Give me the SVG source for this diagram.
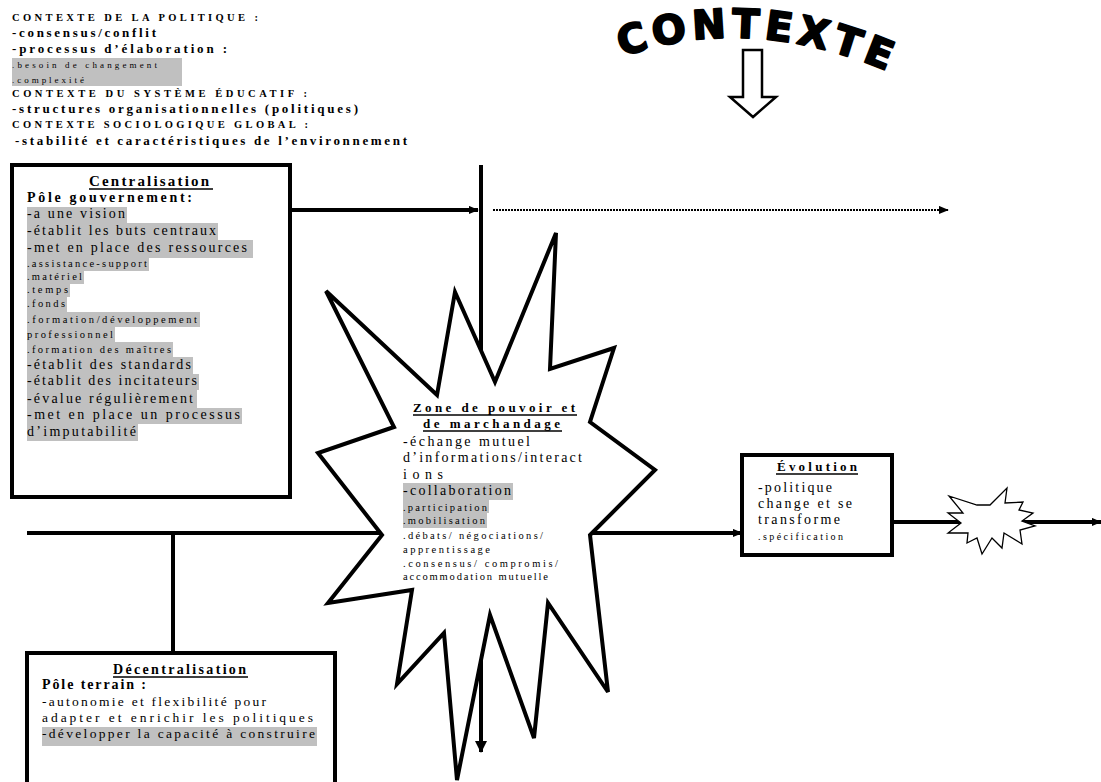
<svg xmlns="http://www.w3.org/2000/svg" width="1101" height="782" viewBox="0 0 1101 782">
<style>
.t{font-family:"Liberation Serif","Times New Roman",serif;fill:#000}
.b{font-weight:bold}
.hl{fill:#c0c0c0}
.box{fill:#fff;stroke:#000;stroke-width:4}
.conn{stroke:#000;stroke-width:4;fill:none}
.ul{stroke:#000;stroke-width:1.5}
.star{fill:#fff;stroke:#000;stroke-linejoin:miter}
</style>
<defs>
<marker id="ah" viewBox="0 0 12 12" refX="11" refY="6" markerWidth="12" markerHeight="12" markerUnits="userSpaceOnUse" orient="auto">
<path d="M0,0 L12,6 L0,12 Z" fill="#000"/>
</marker>
<marker id="ahs" viewBox="0 0 12 10" refX="11" refY="5" markerWidth="10" markerHeight="9" markerUnits="userSpaceOnUse" orient="auto">
<path d="M0,0 L12,5 L0,10 Z" fill="#000"/>
</marker>
<path id="arc" d="M608,62 Q748,6 905,79"/>
</defs>

<g id="contexte-politique">
<rect class="hl" x="12" y="58" width="170" height="28"/>
<text class="t b" x="12" y="20.5" font-size="10.5" textLength="246" lengthAdjust="spacing">CONTEXTE DE LA POLITIQUE :</text>
<text class="t b" x="12" y="37" font-size="13" textLength="144" lengthAdjust="spacing">-consensus/conflit</text>
<text class="t b" x="12" y="53" font-size="13" textLength="215" lengthAdjust="spacing">-processus d’élaboration :</text>
<text class="t" x="12" y="68" font-size="9" textLength="145" lengthAdjust="spacing">.besoin de changement</text>
<text class="t" x="12" y="83" font-size="9" textLength="72" lengthAdjust="spacing">.complexité</text>
<text class="t b" x="12" y="97" font-size="10.5" textLength="295" lengthAdjust="spacing">CONTEXTE DU SYSTÈME ÉDUCATIF :</text>
<text class="t b" x="12" y="113" font-size="13" textLength="346" lengthAdjust="spacing">-structures organisationnelles  (politiques)</text>
<text class="t b" x="12" y="128" font-size="10.5" textLength="296" lengthAdjust="spacing">CONTEXTE SOCIOLOGIQUE GLOBAL :</text>
<text class="t b" x="15" y="145" font-size="13" textLength="392" lengthAdjust="spacing">-stabilité et caractéristiques de l’environnement</text>
</g>

<g id="contexte-titre">
<text font-family="'DejaVu Sans','Liberation Sans',sans-serif" font-weight="bold" font-size="40" letter-spacing="5" fill="#000" stroke="#000" stroke-width="2" stroke-linejoin="round"><textPath href="#arc" startOffset="50%" text-anchor="middle">CONTEXTE</textPath></text>
<polygon points="743,50 762,50 762,97 776,97 753,117 730,97 743,97" fill="#fff" stroke="#000" stroke-width="2.5"/>
</g>

<g id="connectors">
<line class="conn" x1="481" y1="165" x2="481" y2="752" stroke-width="5" marker-end="url(#ah)"/>
<line class="conn" x1="290" y1="210" x2="478" y2="210" marker-end="url(#ahs)"/>
<line x1="493" y1="210" x2="948" y2="210" stroke="#000" stroke-width="2" stroke-dasharray="2 1" marker-end="url(#ahs)"/>
<line class="conn" x1="27" y1="533" x2="742" y2="533" marker-end="url(#ahs)"/>
<line class="conn" x1="173" y1="533" x2="173" y2="662" marker-end="url(#ah)"/>
<line class="conn" x1="892" y1="522" x2="1101" y2="522" marker-end="url(#ahs)"/>
</g>

<g id="centralisation">
<rect class="box" x="12" y="165" width="278" height="332"/>
<rect class="hl" x="27" y="207" width="100" height="16"/>
<rect class="hl" x="27" y="223" width="191" height="17"/>
<rect class="hl" x="27" y="240" width="226" height="18"/>
<rect class="hl" x="27" y="258" width="122" height="13"/>
<rect class="hl" x="27" y="271" width="57" height="13"/>
<rect class="hl" x="27" y="284" width="43" height="13"/>
<rect class="hl" x="27" y="297" width="40" height="15"/>
<rect class="hl" x="27" y="312" width="173" height="15"/>
<rect class="hl" x="27" y="327" width="88" height="15"/>
<rect class="hl" x="27" y="342" width="146" height="15"/>
<rect class="hl" x="27" y="357" width="166" height="17"/>
<rect class="hl" x="27" y="374" width="172" height="16"/>
<rect class="hl" x="27" y="390" width="170" height="18"/>
<rect class="hl" x="27" y="408" width="215" height="16"/>
<rect class="hl" x="27" y="424" width="111" height="17"/>
<text class="t b" x="89" y="186" font-size="15" textLength="120" lengthAdjust="spacing">Centralisation</text>
<line class="ul" x1="89" y1="189" x2="213" y2="189"/>
<text class="t b" x="27" y="202" font-size="14" textLength="165" lengthAdjust="spacing">Pôle gouvernement:</text>
<text class="t" x="27" y="218" font-size="14" textLength="98" lengthAdjust="spacing">-a une vision</text>
<text class="t" x="27" y="235" font-size="14" textLength="189" lengthAdjust="spacing">-établit les buts centraux</text>
<text class="t" x="27" y="252" font-size="14" textLength="220" lengthAdjust="spacing">-met en place des ressources</text>
<text class="t" x="27" y="267" font-size="10.5" textLength="120" lengthAdjust="spacing">.assistance-support</text>
<text class="t" x="27" y="280" font-size="10.5" textLength="55" lengthAdjust="spacing">.matériel</text>
<text class="t" x="27" y="293" font-size="10.5" textLength="41" lengthAdjust="spacing">.temps</text>
<text class="t" x="27" y="307" font-size="10.5" textLength="38" lengthAdjust="spacing">.fonds</text>
<text class="t" x="27" y="323" font-size="10.5" textLength="170" lengthAdjust="spacing">.formation/développement</text>
<text class="t" x="27" y="338" font-size="10.5" textLength="86" lengthAdjust="spacing">professionnel</text>
<text class="t" x="27" y="353" font-size="10.5" textLength="144" lengthAdjust="spacing">.formation des maîtres</text>
<text class="t" x="27" y="369" font-size="14" textLength="164" lengthAdjust="spacing">-établit des standards</text>
<text class="t" x="27" y="385" font-size="14" textLength="170" lengthAdjust="spacing">-établit des incitateurs</text>
<text class="t" x="27" y="403" font-size="14" textLength="166" lengthAdjust="spacing">-évalue régulièrement</text>
<text class="t" x="27" y="419" font-size="14" textLength="213" lengthAdjust="spacing">-met en place un processus</text>
<text class="t" x="27" y="436" font-size="14" textLength="109" lengthAdjust="spacing">d’imputabilité</text>
</g>

<g id="zone">
<polygon class="star" stroke-width="4" points="326,291 437,395 455,292 495,382 556,233 550,369 614,348 590,422 655,470 590,535 608,692 548,603 534,738 490,615 457,780 444,633 397,684 412,590 328,603 382,535 318,453 394,427"/>
<rect class="hl" x="403" y="483" width="110" height="17"/>
<rect class="hl" x="403" y="500" width="86" height="13"/>
<rect class="hl" x="403" y="513" width="84" height="15"/>
<text class="t b" x="413" y="412" font-size="13" textLength="162" lengthAdjust="spacing">Zone de pouvoir et</text>
<line class="ul" x1="413" y1="415" x2="577" y2="415"/>
<text class="t b" x="423" y="428" font-size="13" textLength="137" lengthAdjust="spacing">de marchandage</text>
<line class="ul" x1="423" y1="431" x2="562" y2="431"/>
<text class="t" x="403" y="446" font-size="14" textLength="127" lengthAdjust="spacing">-échange mutuel</text>
<text class="t" x="403" y="462" font-size="14" textLength="179" lengthAdjust="spacing">d’informations/interact</text>
<text class="t" x="403" y="479" font-size="14" textLength="40" lengthAdjust="spacing">ions</text>
<text class="t" x="403" y="495" font-size="14" textLength="108" lengthAdjust="spacing">-collaboration</text>
<text class="t" x="403" y="511" font-size="10.5" textLength="84" lengthAdjust="spacing">.participation</text>
<text class="t" x="403" y="524" font-size="10.5" textLength="82" lengthAdjust="spacing">.mobilisation</text>
<text class="t" x="403" y="539" font-size="10.5" textLength="140" lengthAdjust="spacing">.débats/ négociations/</text>
<text class="t" x="403" y="553" font-size="10.5" textLength="87" lengthAdjust="spacing">apprentissage</text>
<text class="t" x="403" y="567" font-size="10.5" textLength="155" lengthAdjust="spacing">.consensus/ compromis/</text>
<text class="t" x="403" y="580" font-size="10.5" textLength="145" lengthAdjust="spacing">accommodation mutuelle</text>
</g>

<g id="evolution">
<rect class="box" x="742" y="455" width="150" height="100"/>
<text class="t b" x="777" y="471" font-size="13" textLength="80" lengthAdjust="spacing">Évolution</text>
<line class="ul" x1="776" y1="474" x2="858" y2="474"/>
<text class="t" x="758" y="492" font-size="14" textLength="74" lengthAdjust="spacing">-politique</text>
<text class="t" x="758" y="508" font-size="14" textLength="94" lengthAdjust="spacing">change et se</text>
<text class="t" x="758" y="524" font-size="14" textLength="82" lengthAdjust="spacing">transforme</text>
<text class="t" x="758" y="540" font-size="10" textLength="85" lengthAdjust="spacing">.spécification</text>
</g>

<g id="petite-explosion">
<polygon class="star" stroke-width="1.3" points="949,496 977,505 990,505 1007,488 1005,503 1023,502 1019,510 1033,513 1022,521 1035,526 1020,530 1022,544 1004,533 1002,548 992,538 982,554 977,538 967,543 968,533 948,533 961,523 948,513 963,513"/>
</g>

<g id="decentralisation">
<rect class="box" x="27" y="653" width="308" height="140"/>
<rect class="hl" x="42" y="727" width="275" height="19"/>
<text class="t b" x="113" y="674" font-size="14" textLength="133" lengthAdjust="spacing">Décentralisation</text>
<line class="ul" x1="113" y1="677" x2="248" y2="677"/>
<text class="t b" x="42" y="689" font-size="14" textLength="104" lengthAdjust="spacing">Pôle terrain :</text>
<text class="t" x="42" y="706" font-size="13.5" textLength="224" lengthAdjust="spacing">-autonomie et flexibilité pour</text>
<text class="t" x="42" y="722" font-size="13.5" textLength="271" lengthAdjust="spacing">adapter et enrichir les politiques</text>
<text class="t" x="42" y="738" font-size="13.5" textLength="273" lengthAdjust="spacing">-développer la capacité à construire</text>
</g>
</svg>
